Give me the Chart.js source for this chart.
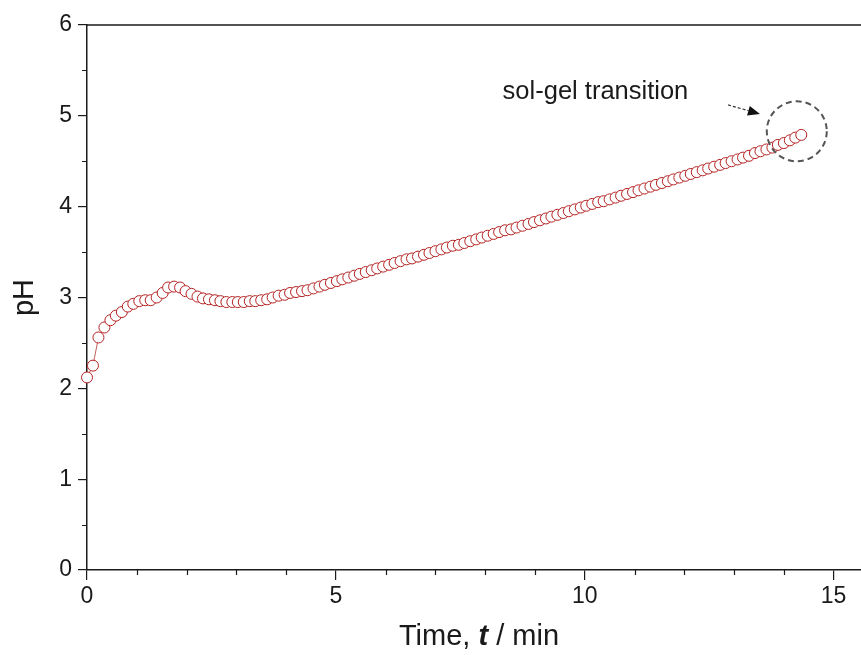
<!DOCTYPE html>
<html>
<head>
<meta charset="utf-8">
<script src="https://cdn.jsdelivr.net/npm/chart.js@4.4.1/dist/chart.umd.min.js"></script>
<style>
  html, body { margin: 0; padding: 0; background: #fff; }
</style>
</head>
<body>
<canvas id="phChart" width="861" height="655"></canvas>
<script>
// time in minutes, one reading about every 7 s
const times = [
  0, 0.12, 0.23, 0.35, 0.47, 0.58, 0.70, 0.82, 0.93, 1.05,
  1.17, 1.28, 1.40, 1.52, 1.63, 1.75, 1.87, 1.98, 2.10, 2.22,
  2.33, 2.45, 2.57, 2.68, 2.80, 2.92, 3.03, 3.15, 3.27, 3.38,
  3.50, 3.62, 3.73, 3.85, 3.97, 4.08, 4.20, 4.32, 4.43, 4.55,
  4.67, 4.78, 4.90, 5.02, 5.13, 5.25, 5.37, 5.48, 5.60, 5.72,
  5.83, 5.95, 6.07, 6.18, 6.30, 6.42, 6.53, 6.65, 6.77, 6.88,
  7.00, 7.12, 7.23, 7.35, 7.47, 7.58, 7.70, 7.82, 7.93, 8.05,
  8.17, 8.28, 8.40, 8.52, 8.63, 8.75, 8.87, 8.98, 9.10, 9.22,
  9.33, 9.45, 9.57, 9.68, 9.80, 9.92, 10.03, 10.15, 10.27, 10.38,
  10.50, 10.62, 10.73, 10.85, 10.97, 11.08, 11.20, 11.32, 11.43, 11.55,
  11.67, 11.78, 11.90, 12.02, 12.13, 12.25, 12.37, 12.48, 12.60, 12.72,
  12.83, 12.95, 13.07, 13.18, 13.30, 13.42, 13.53, 13.65, 13.77, 13.88,
  14.00, 14.12, 14.23, 14.35
];

const phValues = [
  2.12, 2.25, 2.56, 2.67, 2.75, 2.80, 2.84, 2.90, 2.93, 2.96,
  2.97, 2.97, 3.00, 3.05, 3.11, 3.12, 3.11, 3.07, 3.04, 3.01,
  2.99, 2.98, 2.97, 2.96, 2.95, 2.95, 2.95, 2.95, 2.96, 2.96,
  2.97, 2.98, 3.00, 3.02, 3.03, 3.05, 3.06, 3.07, 3.08, 3.10,
  3.12, 3.14, 3.16, 3.18, 3.20, 3.22, 3.24, 3.26, 3.28, 3.30,
  3.32, 3.34, 3.36, 3.38, 3.40, 3.42, 3.43, 3.45, 3.47, 3.49,
  3.51, 3.53, 3.55, 3.57, 3.58, 3.60, 3.62, 3.64, 3.66, 3.68,
  3.70, 3.72, 3.74, 3.75, 3.77, 3.79, 3.81, 3.83, 3.85, 3.87,
  3.89, 3.91, 3.93, 3.95, 3.97, 3.99, 4.01, 4.03, 4.05, 4.06,
  4.08, 4.10, 4.12, 4.14, 4.16, 4.18, 4.20, 4.22, 4.24, 4.26,
  4.28, 4.30, 4.32, 4.34, 4.36, 4.38, 4.40, 4.42, 4.44, 4.46,
  4.48, 4.50, 4.52, 4.54, 4.56, 4.59, 4.61, 4.63, 4.65, 4.68,
  4.70, 4.73, 4.76, 4.79
];

const xTicks = [0, 5, 10, 15];
const yTicks = [0, 1, 2, 3, 4, 5, 6];
const xMinorTicks = [1, 2, 3, 4, 6, 7, 8, 9, 11, 12, 13, 14];
const yMinorTicks = [0.5, 1.5, 2.5, 3.5, 4.5, 5.5];

const FONT = "'Liberation Sans', Arial, sans-serif";
const INK = '#1a1a1a';

// minor ticks, top frame line, x title with italic t, annotation
const extras = {
  id: 'extras',
  afterDraw(chart) {
    const ctx = chart.ctx;
    const area = chart.chartArea;
    const x = chart.scales.x;
    const y = chart.scales.y;
    ctx.save();
    ctx.strokeStyle = INK;
    ctx.lineWidth = 1.2;
    ctx.beginPath();
    xMinorTicks.forEach(v => {
      const px = Math.round(x.getPixelForValue(v)) + 0.5;
      ctx.moveTo(px, area.bottom);
      ctx.lineTo(px, area.bottom + 5);
    });
    yMinorTicks.forEach(v => {
      const py = Math.round(y.getPixelForValue(v)) + 0.5;
      ctx.moveTo(area.left, py);
      ctx.lineTo(area.left - 5, py);
    });
    ctx.stroke();

    // top frame
    ctx.lineWidth = 1.5;
    ctx.beginPath();
    ctx.moveTo(area.left, area.top);
    ctx.lineTo(chart.width, area.top);
    ctx.stroke();

    // x axis title
    ctx.fillStyle = INK;
    ctx.textBaseline = 'alphabetic';
    const parts = [
      { text: 'Time, ', font: '29px ' + FONT },
      { text: 't', font: 'italic bold 29px ' + FONT },
      { text: ' / min', font: '29px ' + FONT }
    ];
    let total = 0;
    parts.forEach(p => { ctx.font = p.font; p.w = ctx.measureText(p.text).width; total += p.w; });
    let tx = 479 - total / 2;
    const ty = area.bottom + 75;
    parts.forEach(p => { ctx.font = p.font; ctx.fillText(p.text, tx, ty); tx += p.w; });

    // annotation
    ctx.font = '25.5px ' + FONT;
    ctx.textAlign = 'left';
    ctx.fillText('sol-gel transition', x.getPixelForValue(8.35), y.getPixelForValue(5.18));

    ctx.strokeStyle = '#555';
    ctx.lineWidth = 2;
    ctx.setLineDash([6, 4]);
    ctx.beginPath();
    ctx.arc(x.getPixelForValue(14.26), y.getPixelForValue(4.83), 30, 0, Math.PI * 2);
    ctx.stroke();

    const ax0 = x.getPixelForValue(12.88), ay0 = y.getPixelForValue(5.12);
    const ax1 = x.getPixelForValue(13.52), ay1 = y.getPixelForValue(5.02);
    const ang = Math.atan2(ay1 - ay0, ax1 - ax0);
    const headLen = 12;
    ctx.strokeStyle = '#333';
    ctx.lineWidth = 1.2;
    ctx.setLineDash([3, 2]);
    ctx.beginPath();
    ctx.moveTo(ax0, ay0);
    ctx.lineTo(ax1 - headLen * Math.cos(ang), ay1 - headLen * Math.sin(ang));
    ctx.stroke();
    ctx.setLineDash([]);
    ctx.fillStyle = '#111';
    ctx.beginPath();
    ctx.moveTo(ax1, ay1);
    ctx.lineTo(ax1 - headLen * Math.cos(ang) + 5 * Math.sin(ang), ay1 - headLen * Math.sin(ang) - 5 * Math.cos(ang));
    ctx.lineTo(ax1 - headLen * Math.cos(ang) - 5 * Math.sin(ang), ay1 - headLen * Math.sin(ang) + 5 * Math.cos(ang));
    ctx.closePath();
    ctx.fill();
    ctx.restore();
  }
};

new Chart(document.getElementById('phChart'), {
  type: 'line',
  data: {
    datasets: [{
      data: times.map((t, i) => ({ x: t, y: phValues[i] })),
      borderColor: '#c06060',
      borderWidth: 1,
      pointRadius: 5.5,
      pointBorderWidth: 1,
      pointBorderColor: '#b42222',
      pointBackgroundColor: '#ffffff',
      tension: 0,
      clip: false
    }]
  },
  options: {
    responsive: false,
    animation: false,
    devicePixelRatio: 1,
    layout: { autoPadding: false, padding: { top: 25, right: 0, left: 0, bottom: 0 } },
    plugins: { legend: { display: false }, tooltip: { enabled: false } },
    scales: {
      x: {
        type: 'linear',
        min: 0,
        max: 15.55,
        afterBuildTicks: s => { s.ticks = xTicks.map(v => ({ value: v })); },
        afterFit: s => { s.height = 85; },
        grid: { drawOnChartArea: false, tickLength: 10, color: INK, lineWidth: 1.2 },
        border: { color: INK, width: 1.5 },
        ticks: { color: INK, font: { family: FONT, size: 23 }, padding: 3, maxRotation: 0 }
      },
      y: {
        min: 0,
        max: 6,
        afterBuildTicks: s => { s.ticks = yTicks.map(v => ({ value: v })); },
        afterFit: s => { s.width = 87; },
        grid: { drawOnChartArea: false, tickLength: 9, color: INK, lineWidth: 1.2 },
        border: { color: INK, width: 1.5 },
        ticks: { color: INK, font: { family: FONT, size: 23 }, padding: 6 },
        title: { display: true, text: 'pH', color: INK, font: { family: FONT, size: 29 }, padding: { top: 8, bottom: 0 } }
      }
    }
  },
  plugins: [extras]
});
</script>
</body>
</html>
